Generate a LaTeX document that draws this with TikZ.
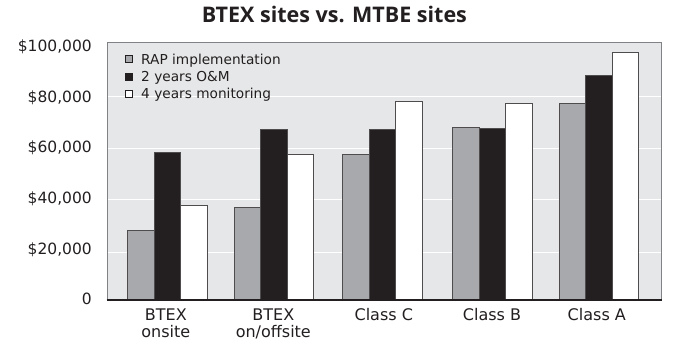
\documentclass[tikz,border=0pt]{standalone}
\usepackage{fontspec}
\setmainfont{DejaVu Sans}
\newfontfamily\titlefont{Open Sans}
\definecolor{plotbg}{HTML}{E6E7E8}
\definecolor{bargray}{HTML}{A7A9AC}
\definecolor{barblack}{HTML}{231F20}
\definecolor{frame}{HTML}{808285}
\begin{document}
\begin{tikzpicture}[x=1pt,y=-1pt,
  bar/.style={draw=barblack!80,line width=0.9pt},
  gbar/.style={bar,fill=bargray},
  kbar/.style={bar,fill=barblack},
  wbar/.style={bar,fill=white},
  ylab/.style={anchor=base east,font=\fontsize{15.5}{15.5}\selectfont,text=barblack,inner sep=0pt},
  xlab/.style={anchor=base,font=\fontsize{16}{16.7}\selectfont,text=barblack,align=center,inner sep=0pt},
  leg/.style={anchor=base west,font=\fontsize{13.7}{13.7}\selectfont,text=barblack,inner sep=0pt},
  legbox/.style={draw=barblack,line width=0.8pt,minimum size=7pt,inner sep=0pt}
]
\useasboundingbox (0,0) rectangle (673,344);
\fill[white] (0,0) rectangle (673,344);
% plot area
\fill[plotbg] (107.3,42.7) rectangle (661.7,300);
\foreach \yy in {96.7,148.3,200,252.3}
  \draw[white,line width=1pt] (107.3,\yy) -- (661.7,\yy);
\draw[frame,line width=1.3pt] (107.3,300) -- (107.3,42.7) -- (661.7,42.7) -- (661.7,300);
% bars
\def\bw{26.5}
\foreach \xs/\g/\k/\w in {127.7/230.7/152.7/205,
                         234.3/207.3/129/154,
                         342.7/154.3/129/101.7,
                         452.7/127.7/128.3/103,
                         559.3/103/75/52.3}{
  \draw[gbar] (\xs,300) rectangle ({\xs+\bw},\g);
  \draw[kbar] ({\xs+\bw},300) rectangle ({\xs+2*\bw},\k);
  \draw[wbar] ({\xs+2*\bw},300) rectangle ({\xs+3*\bw},\w);
}
\draw[barblack,line width=1.3pt] (106.6,300) -- (662.4,300);
% y labels
\node[ylab] (y100) at (92,51.7) {\$100,000};
\node[ylab] (y80) at (92,102.35) {\$80,000};
\node[ylab] (y60) at (92,153) {\$60,000};
\node[ylab] (y40) at (92,203.65) {\$40,000};
\node[ylab] (y20) at (92,254.3) {\$20,000};
\node[ylab] (y0) at (92,304.5) {0};
% x labels
\node[xlab] (c1) at (165.8,337.4) {BTEX\\onsite};
\node[xlab] (c2) at (273.3,337.4) {BTEX\\on/offsite};
\node[xlab] (c3) at (383.8,320.7) {Class C};
\node[xlab] (c4) at (492,320.7) {Class B};
\node[xlab] (c5) at (596.8,320.7) {Class A};
% legend
\node[legbox,fill=bargray] (lb1) at (129.2,59.2) {};
\node[legbox,fill=barblack] (lb2) at (129.2,76.5) {};
\node[legbox,fill=white] (lb3) at (129.2,93.8) {};
\node[leg] (l1) at (141,64.3) {RAP implementation};
\node[leg] (l2) at (141,81.6) {2 years O\&M};
\node[leg] (l3) at (141,99) {4 years monitoring};
% title
\node[anchor=base west,font=\titlefont\bfseries\fontsize{21.5}{21.5}\selectfont,text=barblack,inner sep=0pt] (title) at (201.7,22.7) {BTEX sites vs. MTBE sites};
\end{tikzpicture}
\end{document}
